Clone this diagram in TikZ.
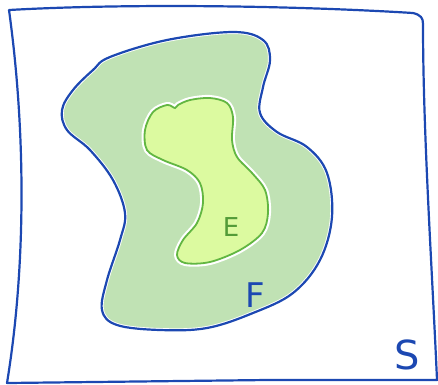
\documentclass[tikz,border=0pt]{standalone}
\usepackage{fontspec}
\setsansfont{DejaVu Sans}
\definecolor{penblue}{RGB}{28,72,178}
\definecolor{fgreen}{RGB}{192,226,180}
\definecolor{egreen}{RGB}{220,250,160}
\definecolor{epen}{RGB}{98,182,66}
\tikzset{
  pen/.style = {line width = 2.2, line cap = round, line join = round},
  lbl/.style = {font = \sffamily, inner sep = 0pt}
}
\begin{document}
\begin{tikzpicture}[x = 1pt, y = -1pt]
	\useasboundingbox (0, 0) rectangle (438, 384);
	\def\Fpath{plot[smooth cycle, tension = .6] coordinates {(110,57) (167,40) (233,32) (263,40) (270,60) (263,87) (260,113) (277,132) (307,147) (327,173) (332,217) (320,260) (293,293) (253,313) (207,328) (160,330) (117,325) (102,310) (107,280) (120,240) (125,213) (113,180) (90,150) (67,130) (62,110) (73,90) (93,70)}}
	\def\Epath{plot[smooth cycle, tension = .55] coordinates {(175,108) (167,105) (153,112) (145,130) (147,150) (163,160) (187,170) (200,183) (203,203) (197,223) (183,240) (177,255) (185,263) (210,262) (240,250) (262,233) (268,213) (265,190) (252,173) (237,157) (232,140) (233,117) (227,103) (210,98) (190,100) (178,105)}}
	% set S
	\draw[pen, penblue] (9,10) .. controls (133,3) and (300,6) .. (413,13) .. controls (421,15) and (423,18) .. (423,24)
		.. controls (423,133) and (432,267) .. (437,380) -- (267,380) -- (7,383)
		.. controls (26,267) and (26,133) .. (9,10);
	% set F
	\fill[fgreen] \Fpath;
	\draw[white, line width = 4] \Fpath;
	\draw[pen, penblue] \Fpath;
	% set E
	\draw[white, line width = 6] \Epath;
	\fill[egreen] \Epath;
	\draw[line width = 1.8, epen] \Epath;
	\node[lbl, text = epen!85!black, font = \sffamily\fontsize{26}{26}\selectfont] (E) at (231,227) {E};
	\node[lbl, text = penblue, font = \sffamily\fontsize{34}{34}\selectfont] (F) at (255,295) {F};
	\node[lbl, text = penblue, font = \sffamily\fontsize{40}{40}\selectfont] (S) at (407,355) {S};
\end{tikzpicture}
\end{document}
